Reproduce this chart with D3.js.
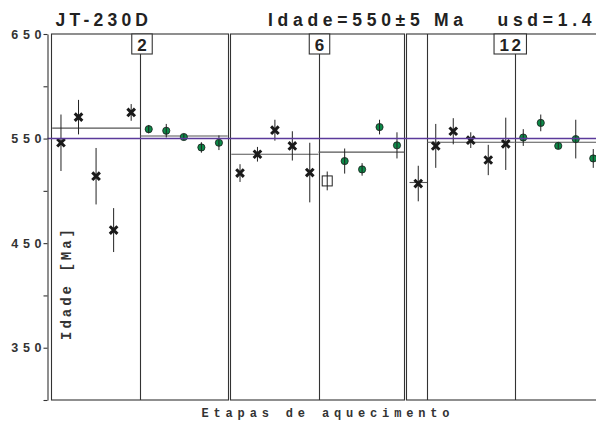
<!DOCTYPE html>
<html>
<head>
<meta charset="utf-8">
<script src="https://cdn.jsdelivr.net/npm/d3@7"></script>
<style>
  body { margin: 0; background: #fff; }
  svg { display: block; }
</style>
</head>
<body>
<svg id="chart" width="596" height="423"></svg>
<script>
// ---- Data: step ages (Ma), 1-sigma errors and step type per aliquot ----
const panelLabels = ["2", "6", "12"];

const ages1 = [546, 570.5, 514, 462.5, 575, 559, 557.5, 551.5, 541.5, 546];
const errs1 = [27, 16.5, 27, 21, 8, 4, 6.5, 3, 5, 7];
const kinds1 = ["x", "x", "x", "x", "x", "g", "g", "g", "g", "g"];

const ages2 = [517, 535, 558, 543, 517.5, 509.5, 528.5, 520.5, 561, 543.5];
const errs2 = [8.5, 7, 10, 14, 28.5, 9, 12, 6, 7, 12.5];
const kinds2 = ["x", "x", "x", "x", "x", "s", "g", "g", "g", "g"];

const ages3 = [507, 543, 557, 548.5, 529.5, 545, 551, 565, 543, 549.5, 531];
const errs3 = [17, 21, 12.5, 7.5, 14.5, 25, 8, 8, 3, 18.5, 9];
const kinds3 = ["x", "x", "x", "x", "x", "x", "g", "g", "g", "g", "g"];

// plateau segments: [first step, end step, mean age]
const plateaus1 = [[0, 5, 560], [5, 10, 552.5]];
const plateaus2 = [[0, 5, 535], [5, 10, 537]];
const plateaus3 = [[0, 1, 508], [1, 6, 546.5], [6, 12, 546.5]];

// step boundaries drawn as vertical separators
const dividers1 = [5];
const dividers2 = [5];
const dividers3 = [1, 6];

const stepCounts = [10, 10, 12];

const yTicks = [300, 350, 400, 450, 500, 550, 600, 650];
const yTickLabels = [350, 450, 550, 650];
const refAge = 550;

const titleText = "JT-230D";
const ageText = "Idade=550\u00b15 Ma";
const usdText = "usd=1.4";
const yTitle = "Idade [Ma]";
const xTitle = "Etapas de aquecimento";

// ---- Layout ----
const W = 596, H = 423;
const plotTop = 34, plotBottom = 400;
const axisX = 47.5;
const layout = [
  { left: 51.5, right: 228.5, x0: 52.2, step: 17.55 },
  { left: 230.5, right: 404.5, x0: 231.3, step: 17.44 },
  { left: 406.5, right: 610, x0: 409.5, step: 17.5 }
];

const panels = [
  { ages: ages1, errs: errs1, kinds: kinds1, plateaus: plateaus1, dividers: dividers1 },
  { ages: ages2, errs: errs2, kinds: kinds2, plateaus: plateaus2, dividers: dividers2 },
  { ages: ages3, errs: errs3, kinds: kinds3, plateaus: plateaus3, dividers: dividers3 }
];

const frameColor = "#333";
const plateauColor = "#555";
const refColor = "#5b3a9b";
const green = "#0c8a48";

const svg = d3.select("#chart");

const y = d3.scaleLinear().domain([300, 650]).range([plotBottom, plotTop]);

// spread letters so a string covers a given width
function spreadText(sel, width) {
  sel.each(function () {
    const t = d3.select(this);
    t.style("letter-spacing", "0px");
    const n = t.text().length;
    const natural = this.getComputedTextLength();
    const s = n > 1 ? (width - natural) / (n - 1) : 0;
    t.style("letter-spacing", s + "px");
  });
}

// ---- Panels ----
const g = svg.append("g");

panels.forEach((p, pi) => {
  const L = layout[pi];
  const n = stepCounts[pi];
  const x = d3.scaleLinear().domain([0, n]).range([L.x0, L.x0 + n * L.step]);
  const pg = g.append("g");

  // frame
  pg.append("rect")
    .attr("x", L.left).attr("y", plotTop)
    .attr("width", L.right - L.left).attr("height", plotBottom - plotTop)
    .attr("fill", "none").attr("stroke", frameColor).attr("stroke-width", 1.1);

  // step separators
  pg.selectAll("line.div").data(p.dividers).join("line")
    .attr("class", "div")
    .attr("x1", d => Math.round(x(d)) + 0.5).attr("x2", d => Math.round(x(d)) + 0.5)
    .attr("y1", plotTop).attr("y2", plotBottom)
    .attr("stroke", frameColor).attr("stroke-width", 1.1);

  // plateau means
  pg.selectAll("line.plat").data(p.plateaus).join("line")
    .attr("class", "plat")
    .attr("x1", d => Math.max(L.left, x(d[0])))
    .attr("x2", d => Math.min(L.right, x(d[1])))
    .attr("y1", d => y(d[2])).attr("y2", d => y(d[2]))
    .attr("stroke", plateauColor).attr("stroke-width", 1.1);

  const pts = p.ages.map((a, i) => ({ i, age: a, err: p.errs[i], kind: p.kinds[i] }));

  // open squares (behind their bars)
  pg.selectAll("rect.sq").data(pts.filter(d => d.kind === "s")).join("rect")
    .attr("class", "sq")
    .attr("x", d => x(d.i + 0.5) - 5).attr("y", d => y(d.age) - 5)
    .attr("width", 10).attr("height", 10)
    .attr("fill", "#fff").attr("stroke", "#222").attr("stroke-width", 1);

  // green steps
  pg.selectAll("circle.gr").data(pts.filter(d => d.kind === "g")).join("circle")
    .attr("class", "gr")
    .attr("cx", d => x(d.i + 0.5)).attr("cy", d => y(d.age))
    .attr("r", 3.6)
    .attr("fill", green).attr("stroke", "#1a1a1a").attr("stroke-width", 0.8);

  // error bars
  pg.selectAll("line.err").data(pts).join("line")
    .attr("class", "err")
    .attr("x1", d => x(d.i + 0.5)).attr("x2", d => x(d.i + 0.5))
    .attr("y1", d => y(d.age + d.err)).attr("y2", d => y(d.age - d.err))
    .attr("stroke", "#222").attr("stroke-width", 1);

  // crosses
  const cross = d3.path();
  const s = 3.8;
  cross.moveTo(-s, -s); cross.lineTo(s, s);
  cross.moveTo(-s, s); cross.lineTo(s, -s);
  pg.selectAll("path.x").data(pts.filter(d => d.kind === "x")).join("path")
    .attr("class", "x")
    .attr("transform", d => `translate(${x(d.i + 0.5)},${y(d.age)})`)
    .attr("d", cross.toString())
    .attr("stroke", "#1a1a1a").attr("stroke-width", 3).attr("fill", "none");

  // aliquot label box
  const cx = (L.left + L.right) / 2 + 2;
  const lab = pg.append("text")
    .attr("y", plotTop + 16.5)
    .attr("font-family", "Liberation Sans, Arial, sans-serif")
    .attr("font-weight", "bold").attr("font-size", 17)
    .attr("fill", "#222")
    .style("letter-spacing", "2.5px")
    .text(panelLabels[pi]);
  const lw = lab.node().getComputedTextLength() - 2.5;
  const bw = Math.max(20, lw + 11);
  pg.insert("rect", "text")
    .attr("x", cx - bw / 2).attr("y", plotTop)
    .attr("width", bw).attr("height", 20)
    .attr("fill", "#fff").attr("stroke", frameColor).attr("stroke-width", 1.1);
  lab.attr("x", cx - lw / 2);
});

// reference age line
svg.append("line")
  .attr("x1", axisX).attr("x2", W)
  .attr("y1", y(refAge)).attr("y2", y(refAge))
  .attr("stroke", refColor).attr("stroke-width", 1.4);

// ---- Y axis ----
const yAxis = d3.axisLeft(y)
  .tickValues(yTicks)
  .tickSize(4)
  .tickSizeOuter(0)
  .tickFormat(d => yTickLabels.includes(d) ? String(d) : "");

const ax = svg.append("g")
  .attr("transform", `translate(${axisX},0)`)
  .call(yAxis);
ax.select(".domain").attr("stroke", frameColor).attr("stroke-width", 1.1);
ax.selectAll(".tick line").attr("stroke", frameColor).attr("stroke-width", 1.1);
ax.selectAll(".tick text")
  .attr("x", -1.5)
  .attr("font-family", "Liberation Sans, Arial, sans-serif")
  .attr("font-size", 12.5).attr("font-weight", "bold")
  .attr("fill", "#333")
  .style("letter-spacing", "4.6px");

// ---- Titles ----
const titleFont = "Liberation Sans, Arial, sans-serif";
svg.append("text").attr("x", 55.5).attr("y", 25.5)
  .attr("font-family", titleFont).attr("font-weight", "bold").attr("font-size", 17.5)
  .attr("fill", "#222").text(titleText).call(spreadText, 92.5);
svg.append("text").attr("x", 268).attr("y", 25.5)
  .attr("font-family", titleFont).attr("font-weight", "bold").attr("font-size", 17.5)
  .attr("fill", "#222").text(ageText).call(spreadText, 195);
svg.append("text").attr("x", 497.5).attr("y", 25.5)
  .attr("font-family", titleFont).attr("font-weight", "bold").attr("font-size", 17.5)
  .attr("fill", "#222").text(usdText).call(spreadText, 94);

// axis titles
const monoFont = "Liberation Mono, DejaVu Sans Mono, monospace";
svg.append("text")
  .attr("transform", "translate(71,340) rotate(-90)")
  .attr("font-family", monoFont).attr("font-weight", "bold").attr("font-size", 14)
  .attr("fill", "#333").text(yTitle).call(spreadText, 111);
svg.append("text")
  .attr("x", 201.5).attr("y", 416.5)
  .attr("font-family", monoFont).attr("font-weight", "bold").attr("font-size", 12)
  .attr("fill", "#333").text(xTitle).call(spreadText, 248);
</script>
</body>
</html>
